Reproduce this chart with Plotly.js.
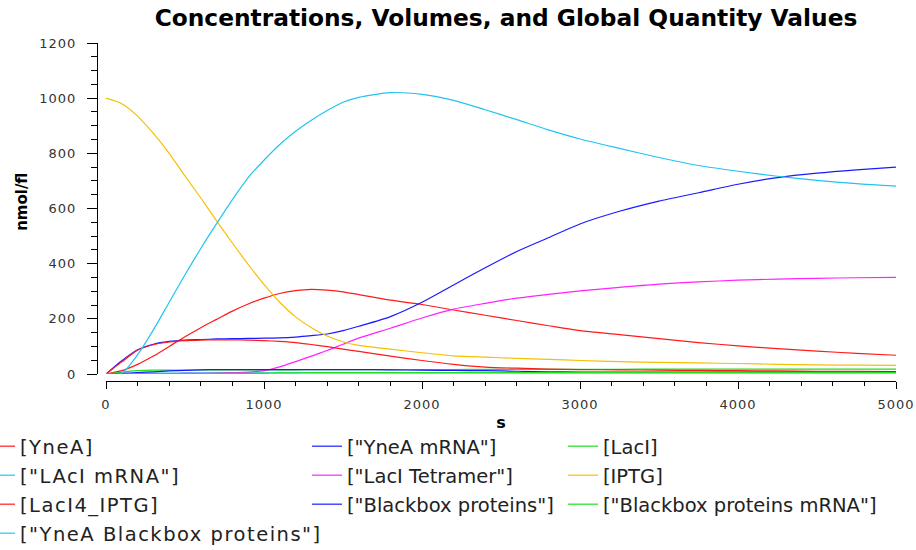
<!DOCTYPE html>
<html><head><meta charset="utf-8">
<script src="https://cdn.plot.ly/plotly-3.0.1.min.js"></script>
<style>
html,body{margin:0;padding:0;background:#fff;}
.xtick text,.ytick text{letter-spacing:1px;}
.legendtext{letter-spacing:1.5px;}
</style></head>
<body><div id="chart" style="width:916px;height:550px;"></div>
<script>
const time = [0,100,200,300,400,500,600,700,800,900,1000,1100,1200,1300,1400,1500,1600,1800,2000,2200,2400,2600,2800,3000,3250,3500,3750,4000,4250,4500,4750,5000];
const yneA = [0,12,35,65,100,135,168,198,228,254,275,292,302,307,304,298,288,268,252,232,213,194,175,157,143,128,114,102,92,83,75,68];
const yneAmRNA = [0,48,88,108,118,123,125,127,128,129,130,131,134,139,145,157,173,208,260,323,385,444,494,544,590,627,657,688,712,728,740,750];
const lacI = [0,7,12,14,14,14,15,15,15,15,15,15,15,16,16,16,16,16,16,16,17,17,17,17,17,18,18,18,18,18,18,18];
const lacImRNA = [0,2,3,3,3,4,4,4,4,4,4,4,4,4,4,4,4,4,4,4,4,4,4,4,4,4,4,4,4,4,4,4];
const lacITetramer = [0,0,0,1,1,2,2,3,5,7,12,26,45,65,85,108,130,166,203,235,256,275,289,301,314,326,334,340,344,347,349,350];
const iptg = [1000,980,935,872,800,718,638,555,475,397,325,260,207,168,138,117,104,90,77,66,61,57,53,49,45,42,40,38,35,33,32,31];
const lacI4IPTG = [0,44,86,106,116,121,123,124,124,123,121,118,114,107,99,90,82,65,49,35,25,21,18,16,15,14,13,12,11,10,10,9];
const bbProteins = [0,2,5,8,11,13,15,16,16,16,16,16,16,16,16,16,16,15,14,13,12,10,8,7,7,7,7,7,7,7,7,7];
const bbProteinsMRNA = [0,0,1,1,1,1,1,2,2,2,3,4,4,5,5,5,5,5,5,5,5,5,5,5,5,5,5,5,5,5,5,5];
const yneABB = [0,3,70,160,260,360,455,545,632,712,775,832,880,920,955,985,1003,1020,1014,992,958,922,885,852,818,785,756,735,717,702,690,681];

const names = ['[YneA]','["YneA mRNA"]','[LacI]','["LAcI mRNA"]','["LacI Tetramer"]','[IPTG]','[LacI4_IPTG]','["Blackbox proteins"]','["Blackbox proteins mRNA"]','["YneA Blackbox proteins"]'];
const series = [yneA,yneAmRNA,lacI,lacImRNA,lacITetramer,iptg,lacI4IPTG,bbProteins,bbProteinsMRNA,yneABB];
const colors = ['#ff1a1a','#1a1aff','#22dd22','#22c4f0','#ff22ff','#f5c000','#ff1a1a','#1a1aff','#22dd22','#22c4f0'];
const legendIds = ['legend','legend2','legend3'];

const traces = series.map((v,i)=>({
  x: time, y: v, name: names[i], type:'scatter', mode:'lines',
  line:{color:colors[i], width:1.2, shape:'spline', smoothing:0.7},
  legend: legendIds[i%3], legendgroup:'g'+i, hoverinfo:'skip'
}));

const tickFont = {family:'DejaVu Sans', size:13, color:'#333'};
const legFont = {family:'DejaVu Sans', size:19.5, color:'#222'};
function leg(xpx){
  return {xref:'paper', yref:'paper', x:(xpx-97)/799, y:(381-427)/338, xanchor:'left', yanchor:'top',
    orientation:'v', font:legFont, bgcolor:'rgba(0,0,0,0)', borderwidth:0, tracegroupgap:0.65, itemclick:false, itemdoubleclick:false};
}
const layout = {
  width:916, height:550,
  margin:{l:97, r:20, t:43, b:169, autoexpand:false},
  paper_bgcolor:'#fff', plot_bgcolor:'#fff',
  title:{text:'Concentrations, Volumes, and Global Quantity Values', xref:'container', yref:'container', x:506/916, xanchor:'center', y:1-18/550, yanchor:'middle',
    font:{family:'DejaVu Sans', size:23.3, weight:'bold', color:'#000'}},
  xaxis:{domain:[9/799,1], range:[0,5000], anchor:'free', position:0, automargin:false,
    showline:true, linecolor:'#000', linewidth:1, ticks:'outside', ticklen:7, tickwidth:1, tickcolor:'#000',
    tick0:0, dtick:1000, showgrid:false, zeroline:false, tickfont:tickFont, ticklabelstandoff:4,
    minor:{dtick:200, ticks:'outside', ticklen:4, tickcolor:'#000', showgrid:false},
    title:{text:'s', font:{family:'DejaVu Sans', size:16, weight:'bold', color:'#000'}, standoff:6}},
  yaxis:{domain:[7/338,1], range:[0,1200], anchor:'free', position:0, automargin:false,
    showline:true, linecolor:'#000', linewidth:1, ticks:'outside', ticklen:10, tickwidth:1, tickcolor:'#000',
    tick0:0, dtick:200, showgrid:false, zeroline:false, tickfont:tickFont, ticklabelstandoff:8,
    minor:{dtick:50, ticks:'outside', ticklen:6, tickcolor:'#000', showgrid:false}},
  annotations:[{text:'nmol/fl', xref:'paper', yref:'paper', x:-75/799, y:0.53, xanchor:'center', yanchor:'middle',
    textangle:-90, showarrow:false, font:{family:'DejaVu Sans', size:15, weight:'bold', color:'#000'}}],
  legend: leg(-20), legend2: leg(307), legend3: leg(563),
  showlegend:true
};
Plotly.newPlot('chart', traces, layout, {displayModeBar:false, staticPlot:true});
</script></body></html>
